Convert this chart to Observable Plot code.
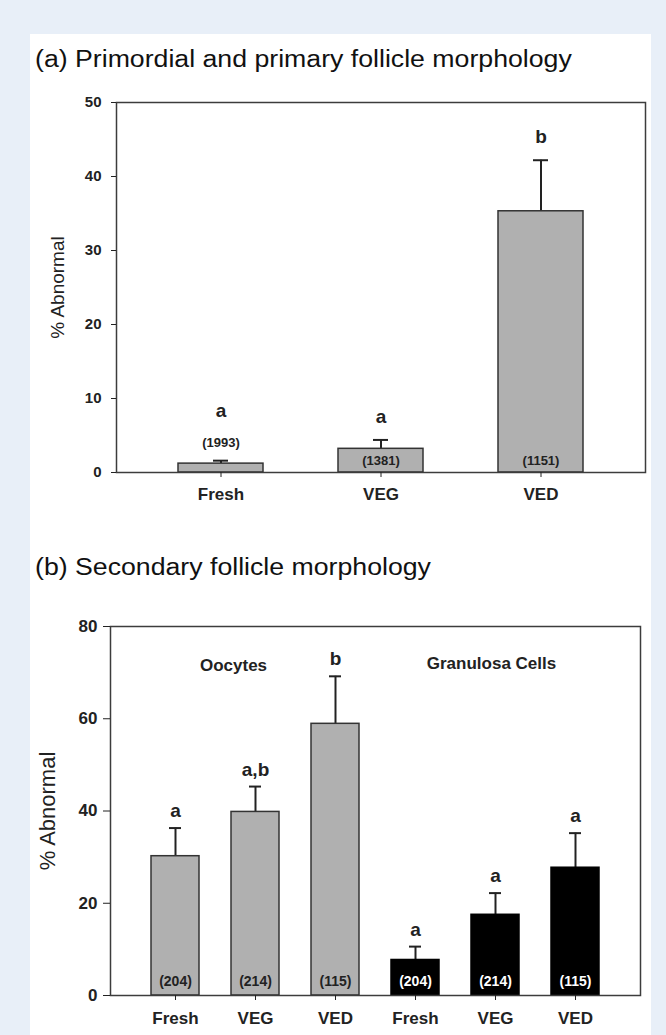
<!DOCTYPE html>
<html><head><meta charset="utf-8">
<script src="https://cdn.jsdelivr.net/npm/d3@7"></script>
<script src="https://cdn.jsdelivr.net/npm/@observablehq/plot@0.6"></script>
<style>
html,body{margin:0;padding:0;background:#e8eff8;width:666px;height:1035px;overflow:hidden;font-family:"Liberation Sans",Arial,sans-serif;}
#panel{position:absolute;left:30px;top:34px;width:621px;height:1001px;background:#fff;}
.title{position:absolute;left:35px;font-size:23px;line-height:23px;color:#111;white-space:nowrap;transform:scaleX(1.16);transform-origin:0 0;}
#ta{top:48px} #tb{top:556px}
#pa{position:absolute;left:0;top:80px} #pb{position:absolute;left:0;top:600px}
svg{overflow:visible}
</style></head><body>
<div id="panel"></div>
<div class="title" id="ta">(a) Primordial and primary follicle morphology</div>
<div class="title" id="tb">(b) Secondary follicle morphology</div>
<div id="pa"></div><div id="pb"></div>
<script>
// ---- Panel (a) data ----
const aCategories = ["Fresh", "VEG", "VED"];
const aValues = [1.2, 3.2, 35.3];
const aErrors = [0.4, 1.2, 6.9];
const aLetters = ["a", "a", "b"];
const aCounts = ["(1993)", "(1381)", "(1151)"];
const aTicks = [0, 10, 20, 30, 40, 50];

// ---- Panel (b) data ----
const bGroups = ["Oocytes", "Granulosa Cells"];
const bCategories = ["Fresh", "VEG", "VED"];
const bOocyteValues = [30.2, 39.8, 58.9];
const bOocyteErrors = [6.1, 5.5, 10.3];
const bGranulosaValues = [7.7, 17.5, 27.7];
const bGranulosaErrors = [2.9, 4.7, 7.5];
const bOocyteLetters = ["a", "a,b", "b"];
const bGranulosaLetters = ["a", "a", "a"];
const bCounts = ["(204)", "(214)", "(115)"];
const bTicks = [0, 20, 40, 60, 80];

const font = '"Liberation Sans", Arial, sans-serif';
const ink = "#222";

// ---- Panel (a) ----
const aData = aCategories.map((c, i) => ({
  cat: c, v: aValues[i], e: aErrors[i], letter: aLetters[i], n: aCounts[i],
  short: aValues[i] < 2
}));

const plotA = Plot.plot({
  width: 666, height: 440,
  marginTop: 22, marginBottom: 48, marginLeft: 116, marginRight: 21,
  style: {fontFamily: font, background: "transparent", color: ink},
  x: {domain: aCategories, paddingInner: 0.47, paddingOuter: 0.383, axis: null},
  y: {domain: [0, 50], axis: null},
  marks: [
    Plot.ruleX(aData, {x: "cat", y1: d => d.v, y2: d => d.v + d.e, stroke: ink, strokeWidth: 2}),
    Plot.tickY(aData, {x: "cat", y: d => d.v + d.e, stroke: ink, strokeWidth: 2, insetLeft: 35, insetRight: 35}),
    Plot.barY(aData, {x: "cat", y: "v", fill: "#b0b0b0", stroke: "#333", strokeWidth: 1.5}),
    Plot.frame({stroke: "#3c3c3c", strokeWidth: 1.5}),
    Plot.axisY({ticks: aTicks, tickSize: 5, tickPadding: 10, fontSize: 15, fontWeight: "bold", label: null, tickFormat: d => String(d)}),
    Plot.axisX({tickSize: 5, tickPadding: 10, fontSize: 17, fontWeight: "bold", label: null}),
    Plot.text(["% Abnormal"], {frameAnchor: "left", textAnchor: "middle", rotate: -90, dx: -59, fontSize: 19, text: d => d, fill: ink}),
    Plot.text(aData, {x: "cat", y: 0, text: "n", lineAnchor: "bottom", fontSize: 13, fontWeight: "bold", fill: ink,
      filter: d => !d.short, dy: -8}),
    Plot.text(aData, {x: "cat", y: d => d.v + d.e, text: "n", lineAnchor: "bottom", fontSize: 13, fontWeight: "bold", fill: ink,
      filter: d => d.short, dy: -14}),
    Plot.text(aData, {x: "cat", y: d => d.v + d.e, text: "letter", lineAnchor: "bottom", fontSize: 19, fontWeight: "bold", fill: ink,
      filter: d => !d.short, dy: -17}),
    Plot.text(aData, {x: "cat", y: d => d.v + d.e, text: "letter", lineAnchor: "bottom", fontSize: 19, fontWeight: "bold", fill: ink,
      filter: d => d.short, dy: -44})
  ]
});
document.getElementById("pa").append(plotA);

// ---- Panel (b) ----
const bData = [];
bCategories.forEach((c, i) => bData.push({key: bGroups[0] + "|" + c, group: bGroups[0], cat: c,
  v: bOocyteValues[i], e: bOocyteErrors[i], letter: bOocyteLetters[i], n: bCounts[i]}));
bCategories.forEach((c, i) => bData.push({key: bGroups[1] + "|" + c, group: bGroups[1], cat: c,
  v: bGranulosaValues[i], e: bGranulosaErrors[i], letter: bGranulosaLetters[i], n: bCounts[i]}));
const bKeys = bData.map(d => d.key);
const groupLabels = bGroups.map(g => ({key: g + "|VEG", text: g}));

const plotB = Plot.plot({
  width: 666, height: 435,
  marginTop: 26, marginBottom: 40, marginLeft: 110, marginRight: 26,
  style: {fontFamily: font, background: "transparent", color: ink},
  x: {domain: bKeys, paddingInner: 0.4, paddingOuter: 0.504, axis: null},
  y: {domain: [0, 80], axis: null},
  marks: [
    Plot.ruleX(bData, {x: "key", y1: d => d.v, y2: d => d.v + d.e, stroke: ink, strokeWidth: 2}),
    Plot.tickY(bData, {x: "key", y: d => d.v + d.e, stroke: ink, strokeWidth: 2, insetLeft: 18, insetRight: 18}),
    Plot.barY(bData, {x: "key", y: "v",
      fill: d => d.group === bGroups[0] ? "#b0b0b0" : "#000",
      stroke: d => d.group === bGroups[0] ? "#333" : "#000", strokeWidth: 1.5}),
    Plot.frame({stroke: "#3c3c3c", strokeWidth: 1.5}),
    Plot.axisY({ticks: bTicks, tickSize: 7, tickPadding: 6, fontSize: 17, fontWeight: "bold", label: null, tickFormat: d => String(d)}),
    Plot.axisX({tickSize: 5, tickPadding: 11, fontSize: 17, fontWeight: "bold", label: null, tickFormat: k => k.split("|")[1]}),
    Plot.text(["% Abnormal"], {frameAnchor: "left", textAnchor: "middle", rotate: -90, dx: -63, fontSize: 22, text: d => d, fill: ink}),
    Plot.text(bData, {x: "key", y: 0, text: "n", dy: -10, lineAnchor: "bottom",
      fontSize: 14, fontWeight: "bold", fill: d => d.group === bGroups[0] ? ink : "#fff"}),
    Plot.text(bData, {x: "key", y: d => d.v + d.e, text: "letter", dy: -11, lineAnchor: "bottom",
      fontSize: 19, fontWeight: "bold", fill: ink}),
    Plot.text(groupLabels.slice(0, 1), {x: "key", frameAnchor: "top", dy: 44, dx: -22, text: "text", lineAnchor: "bottom",
      fontSize: 17, fontWeight: "bold", fill: ink}),
    Plot.text(groupLabels.slice(1), {x: "key", frameAnchor: "top", dy: 42, dx: -4, text: "text", lineAnchor: "bottom",
      fontSize: 17, fontWeight: "bold", fill: ink})
  ]
});
document.getElementById("pb").append(plotB);
</script>
</body></html>
